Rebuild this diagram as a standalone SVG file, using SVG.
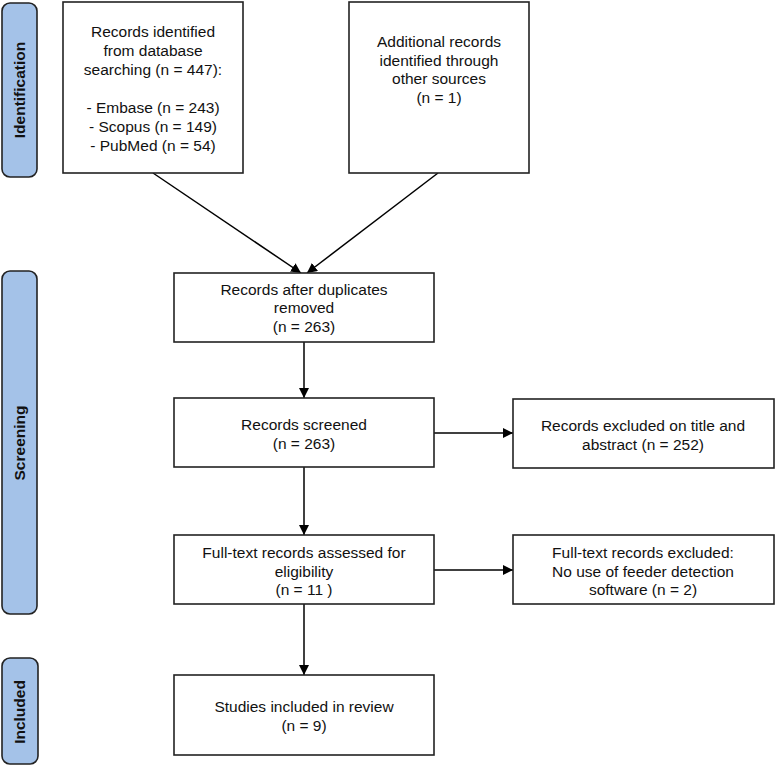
<svg xmlns="http://www.w3.org/2000/svg" width="776" height="766" viewBox="0 0 776 766">
<style>
.box{fill:#fff;stroke:#222;stroke-width:1.6}
.bar{fill:#a4c2e8;stroke:#222;stroke-width:1.6}
.t{font-family:"Liberation Sans",Arial,sans-serif;font-size:15.5px;fill:#111;text-anchor:middle}
.s{font-family:"Liberation Sans",Arial,sans-serif;font-size:15.5px;font-weight:bold;fill:#111;text-anchor:middle}
.c{stroke:#000;stroke-width:1.5;fill:none;marker-end:url(#ah)}
</style>
<defs>
<marker id="ah" viewBox="0 0 10 10" refX="10" refY="5" markerWidth="10" markerHeight="10" markerUnits="userSpaceOnUse" orient="auto">
<path d="M0,0 L10,5 L0,10 z" fill="#000"/>
</marker>
</defs>
<g id="phase-identification">
<rect class="bar" x="2" y="3" width="35" height="174" rx="8"/>
<text class="s" transform="translate(25,90) rotate(-90)">Identification</text>
</g>
<g id="phase-screening">
<rect class="bar" x="2" y="271" width="35" height="343" rx="8"/>
<text class="s" transform="translate(25,443) rotate(-90)">Screening</text>
</g>
<g id="phase-included">
<rect class="bar" x="2" y="658" width="36" height="106" rx="8"/>
<text class="s" transform="translate(25,712) rotate(-90)">Included</text>
</g>
<g id="connectors">
<line class="c" x1="153" y1="173" x2="301" y2="273"/>
<line class="c" x1="438" y1="173" x2="307" y2="273"/>
<line class="c" x1="304" y1="342" x2="304" y2="398"/>
<line class="c" x1="304" y1="467" x2="304" y2="535"/>
<line class="c" x1="304" y1="604" x2="304" y2="675"/>
<line class="c" x1="434" y1="433" x2="513" y2="433"/>
<line class="c" x1="434" y1="570" x2="513" y2="570"/>
</g>
<g id="db-records">
<rect class="box" x="63" y="2" width="180" height="171"/>
<text class="t" x="153" y="37">Records identified</text>
<text class="t" x="153" y="56">from database</text>
<text class="t" x="153" y="75">searching (n = 447):</text>
<text class="t" x="153" y="113">- Embase (n = 243)</text>
<text class="t" x="153" y="132">- Scopus (n = 149)</text>
<text class="t" x="153" y="151">- PubMed (n = 54)</text>
</g>
<g id="other-records">
<rect class="box" x="349" y="2" width="180" height="171"/>
<text class="t" x="439" y="47">Additional records</text>
<text class="t" x="439" y="66">identified through</text>
<text class="t" x="439" y="84">other sources</text>
<text class="t" x="439" y="103">(n = 1)</text>
</g>
<g id="dedup">
<rect class="box" x="174" y="273" width="260" height="69"/>
<text class="t" x="304" y="295">Records after duplicates</text>
<text class="t" x="304" y="313">removed</text>
<text class="t" x="304" y="332">(n = 263)</text>
</g>
<g id="screened">
<rect class="box" x="174" y="398" width="260" height="69"/>
<text class="t" x="304" y="430">Records screened</text>
<text class="t" x="304" y="449">(n = 263)</text>
</g>
<g id="excluded-title">
<rect class="box" x="513" y="399" width="261" height="69"/>
<text class="t" x="643" y="431">Records excluded on title and</text>
<text class="t" x="643" y="450">abstract (n = 252)</text>
</g>
<g id="fulltext">
<rect class="box" x="174" y="535" width="260" height="69"/>
<text class="t" x="304" y="558">Full-text records assessed for</text>
<text class="t" x="304" y="577">eligibility</text>
<text class="t" x="304" y="595">(n = 11 )</text>
</g>
<g id="excluded-fulltext">
<rect class="box" x="513" y="535" width="261" height="69"/>
<text class="t" x="643" y="558">Full-text records excluded:</text>
<text class="t" x="643" y="577">No use of feeder detection</text>
<text class="t" x="643" y="595">software (n = 2)</text>
</g>
<g id="included">
<rect class="box" x="174" y="675" width="260" height="80"/>
<text class="t" x="304" y="712">Studies included in review</text>
<text class="t" x="304" y="731">(n = 9)</text>
</g>
</svg>
